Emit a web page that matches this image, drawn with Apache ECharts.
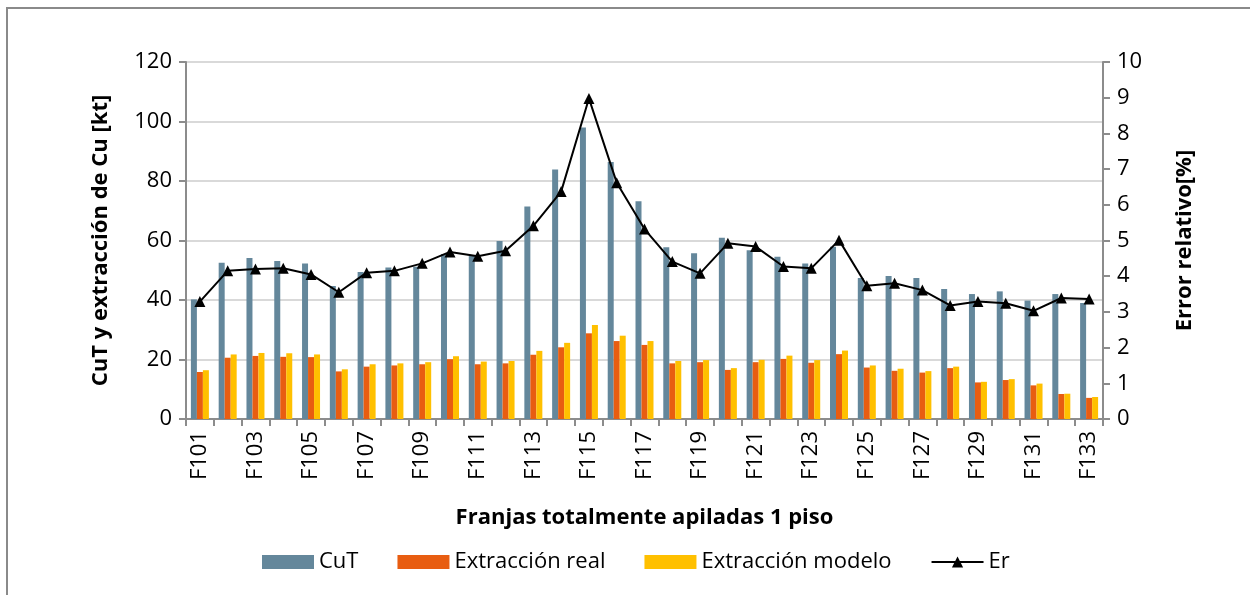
<!DOCTYPE html>
<html>
<head>
<meta charset="utf-8">
<script src="https://cdn.jsdelivr.net/npm/echarts@6/dist/echarts.min.js"></script>
<style>
html,body{margin:0;padding:0;background:#fff;}
#c{width:1250px;height:595px;}
</style>
</head>
<body>
<div id="c"></div>
<script>
var categories = ['F101','F102','F103','F104','F105','F106','F107','F108','F109','F110','F111','F112','F113','F114','F115','F116','F117','F118','F119','F120','F121','F122','F123','F124','F125','F126','F127','F128','F129','F130','F131','F132','F133'];
var cut = [40.2,52.5,54.1,53.1,52.3,44.7,49.4,50.9,51.2,55.5,54.8,59.8,71.4,83.9,98.0,86.4,73.2,57.7,55.7,60.9,56.7,54.5,52.3,57.9,47.4,48.1,47.4,43.7,42.0,42.9,39.8,42.0,39.0];
var extReal = [15.8,20.6,21.2,20.9,20.8,16.0,17.6,18.0,18.4,20.1,18.4,18.7,21.6,24.1,28.8,26.2,24.9,18.7,19.1,16.5,19.1,20.2,18.9,21.8,17.3,16.2,15.6,17.1,12.3,13.1,11.3,8.4,7.1];
var extModelo = [16.4,21.7,22.2,22.1,21.7,16.7,18.4,18.7,19.1,21.1,19.3,19.5,22.9,25.6,31.6,28.0,26.2,19.5,19.8,17.1,19.9,21.3,19.8,23.0,18.0,16.9,16.1,17.6,12.5,13.4,11.9,8.5,7.4];
var er = [3.29,4.15,4.2,4.22,4.05,3.55,4.1,4.15,4.36,4.68,4.56,4.71,5.41,6.37,8.98,6.62,5.32,4.41,4.08,4.92,4.83,4.27,4.22,5.01,3.73,3.8,3.61,3.18,3.29,3.24,3.03,3.39,3.36];
var seriesNames = ['CuT','Extracción real','Extracción modelo','Er'];

var FONT = 'Open Sans';
var chart = echarts.init(document.getElementById('c'), null, {renderer:'canvas'});
var axisColor = '#8c8c8c';
chart.setOption({
  animation:false,
  backgroundColor:'#ffffff',
  textStyle:{fontFamily:FONT},
  graphic:[{type:'rect',shape:{x:7,y:8,width:1400,height:800},style:{fill:'none',stroke:'#8a8a8a',lineWidth:2},silent:true,z:-10}],
  grid:{left:186,right:147,top:62,bottom:176,containLabel:false},
  legend:{
    top:546,left:257,itemWidth:52,itemHeight:14,itemGap:39,
    textStyle:{fontFamily:FONT,fontSize:22,color:'#000'},
    data:[{name:'CuT',icon:'rect'},{name:'Extracción real',icon:'rect'},{name:'Extracción modelo',icon:'rect'},{name:'Er'}]
  },
  xAxis:{
    type:'category',data:categories,boundaryGap:true,
    name:'Franjas totalmente apiladas 1 piso',nameLocation:'middle',nameGap:88,
    nameTextStyle:{fontFamily:FONT,fontSize:22,fontWeight:'bold',color:'#000'},
    axisLine:{lineStyle:{color:axisColor,width:2}},
    axisTick:{show:true,interval:0,length:7,lineStyle:{color:axisColor,width:2}},
    axisLabel:{interval:1,rotate:90,fontFamily:FONT,fontSize:22,color:'#000',margin:12}
  },
  yAxis:[{
    type:'value',min:0,max:120,interval:20,position:'left',
    name:'CuT y extracción de Cu [kt]',nameLocation:'middle',nameGap:74,nameRotate:90,
    nameTextStyle:{fontFamily:FONT,fontSize:22,fontWeight:'bold',color:'#000'},
    axisLine:{show:true,lineStyle:{color:axisColor,width:2}},
    axisTick:{show:true,length:7,lineStyle:{color:axisColor,width:2}},
    axisLabel:{fontFamily:FONT,fontSize:22,color:'#000',margin:14},
    splitLine:{show:true,lineStyle:{color:'#d9d9d9',width:2}}
  },{
    type:'value',min:0,max:10,interval:1,position:'right',
    name:'Error relativo[%]',nameLocation:'middle',nameGap:71,nameRotate:90,
    nameTextStyle:{fontFamily:FONT,fontSize:22,fontWeight:'bold',color:'#000'},
    axisLine:{show:true,lineStyle:{color:axisColor,width:2}},
    axisTick:{show:true,length:7,lineStyle:{color:axisColor,width:2}},
    axisLabel:{fontFamily:FONT,fontSize:22,color:'#000',margin:14},
    splitLine:{show:false}
  }],
  series:[
    {name:seriesNames[0],type:'bar',data:cut,barWidth:6,barGap:'0%',itemStyle:{color:'#64879b'}},
    {name:seriesNames[1],type:'bar',data:extReal,barWidth:6,barGap:'0%',itemStyle:{color:'#e85d11'}},
    {name:seriesNames[2],type:'bar',data:extModelo,barWidth:6,barGap:'0%',itemStyle:{color:'#ffc000'}},
    {name:seriesNames[3],type:'line',yAxisIndex:1,data:er,symbol:'triangle',symbolSize:11,
     lineStyle:{color:'#000',width:2},itemStyle:{color:'#000'},z:10}
  ]
});
</script>
</body>
</html>
